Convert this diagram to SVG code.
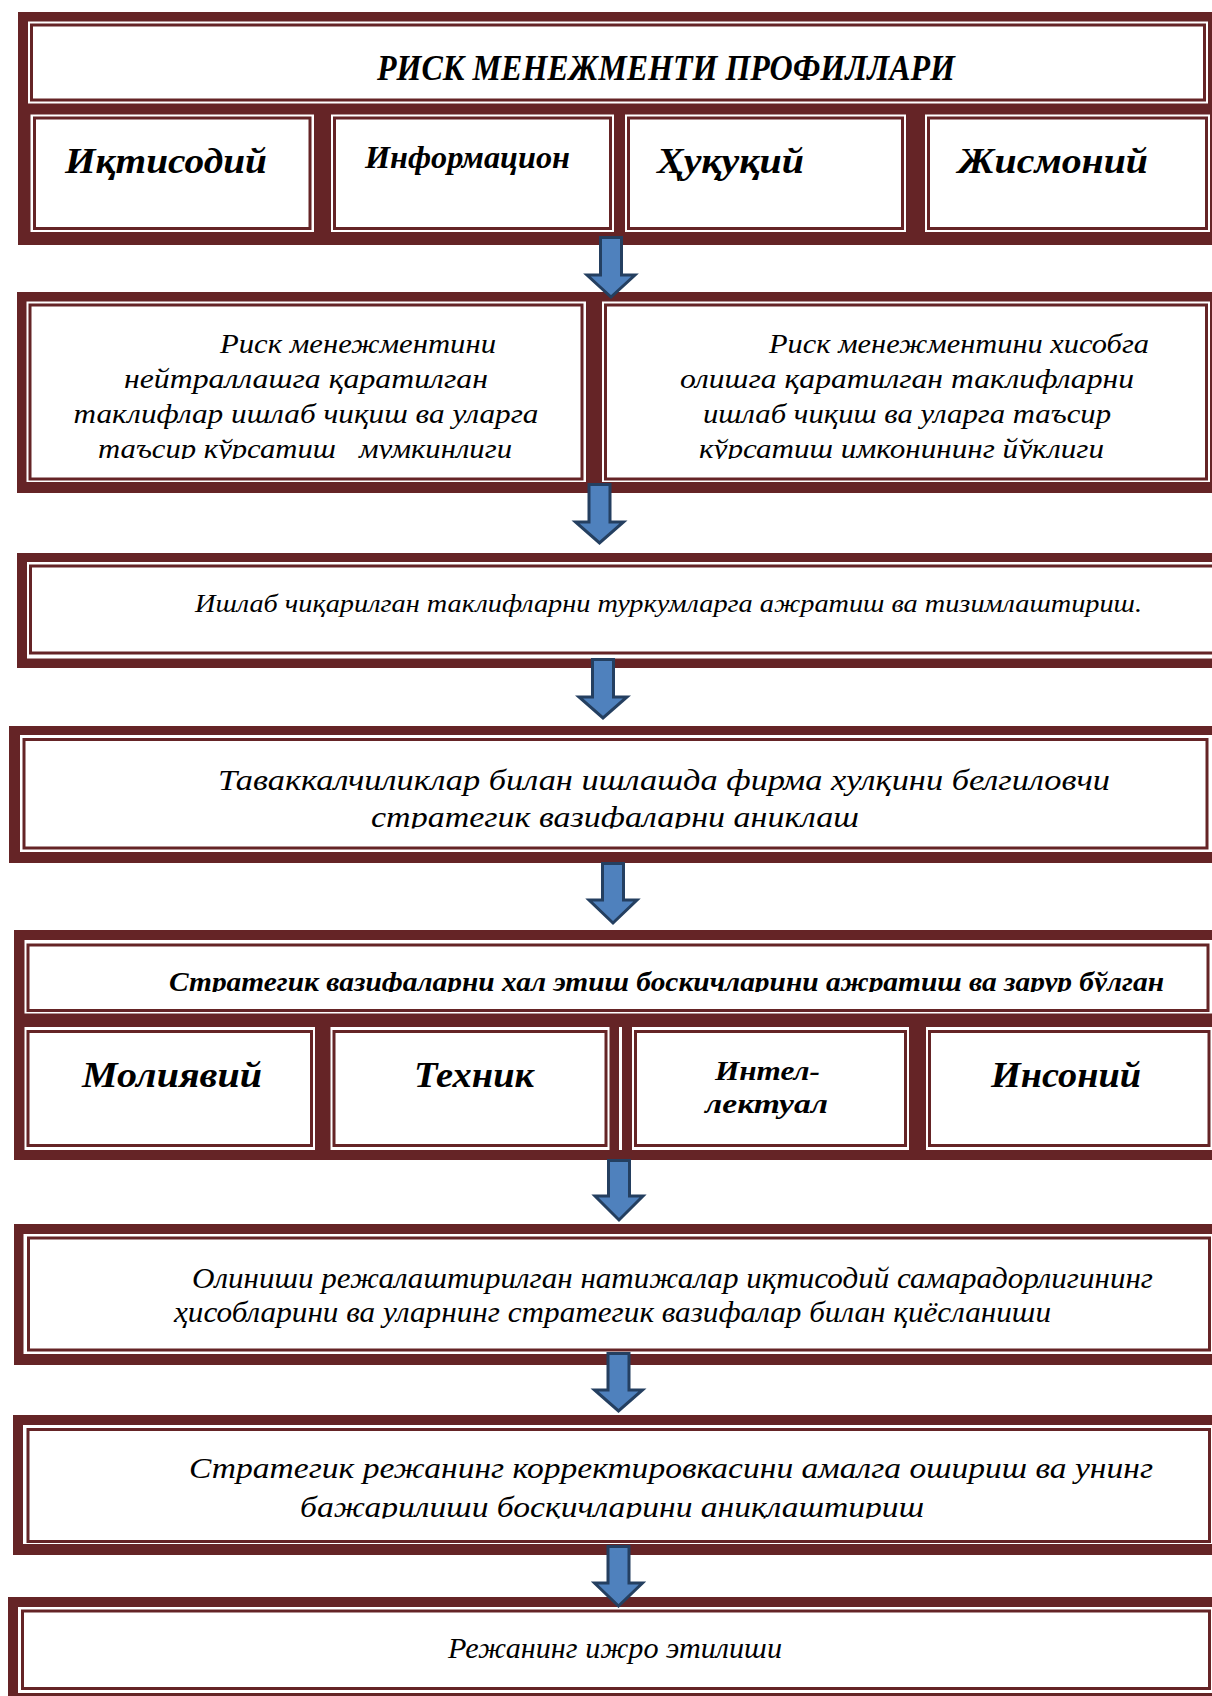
<svg xmlns="http://www.w3.org/2000/svg" width="1212" height="1696" viewBox="0 0 1212 1696">
<defs>
<style>
.dk{fill:#652426}
.wh{fill:#ffffff}
.ln{fill:none;stroke:#652426;stroke-width:3}
.t{font-family:"Liberation Serif","Times New Roman",serif;font-style:italic;fill:#000000}
.b{font-weight:bold}
.ar{fill:#4F81BD;stroke:#243F60;stroke-width:3;stroke-linejoin:miter}
</style>
<clipPath id="cB"><rect x="0" y="300" width="1212" height="159"/></clipPath>
<clipPath id="cD"><rect x="0" y="735" width="1212" height="93.5"/></clipPath>
<clipPath id="cE"><rect x="0" y="940" width="1212" height="52"/></clipPath>
<clipPath id="cG"><rect x="0" y="1425" width="1212" height="93.5"/></clipPath>
</defs>

<g id="node-title">
<rect class="dk" x="18" y="12" width="1210" height="233"/>
<rect class="wh" x="28" y="21.5" width="1180" height="82"/>
<rect class="ln" x="31.5" y="25" width="1173" height="75"/>
<text class="t b" x="377" y="80" font-size="36" textLength="578" lengthAdjust="spacingAndGlyphs">РИСК МЕНЕЖМЕНТИ ПРОФИЛЛАРИ</text>
</g>
<g id="node-iqtisodiy">
<rect class="wh" x="30.5" y="114.5" width="283.5" height="117.5"/>
<rect class="ln" x="34.5" y="118" width="275.5" height="110.5"/>
<text class="t b" x="65" y="173" font-size="36" textLength="202" lengthAdjust="spacingAndGlyphs">Иқтисодий</text>
</g>
<g id="node-informatsion">
<rect class="wh" x="331" y="114.5" width="283" height="117.5"/>
<rect class="ln" x="334.5" y="118" width="276" height="110.5"/>
<text class="t b" x="365" y="168" font-size="31" textLength="205" lengthAdjust="spacingAndGlyphs">Информацион</text>
</g>
<g id="node-huquqiy">
<rect class="wh" x="625" y="114.5" width="281" height="117.5"/>
<rect class="ln" x="628.5" y="118" width="274" height="110.5"/>
<text class="t b" x="657" y="173" font-size="36" textLength="147" lengthAdjust="spacingAndGlyphs">Ҳуқуқий</text>
</g>
<g id="node-jismoniy">
<rect class="wh" x="925" y="114.5" width="285" height="117.5"/>
<rect class="ln" x="928.5" y="118" width="278" height="110.5"/>
<text class="t b" x="958" y="173" font-size="36" textLength="190" lengthAdjust="spacingAndGlyphs">Жисмоний</text>
</g>

<g id="node-neutralize">
<rect class="dk" x="17" y="292" width="1210" height="201"/>
<rect class="wh" x="26.5" y="301.5" width="559.5" height="180.5"/>
<rect class="ln" x="30" y="305" width="552" height="174"/>
<g clip-path="url(#cB)">
<text class="t" font-size="27">
<tspan x="220" y="353" textLength="276" lengthAdjust="spacingAndGlyphs">Риск менежментини</tspan>
<tspan x="124" y="388" textLength="364" lengthAdjust="spacingAndGlyphs">нейтраллашга қаратилган</tspan>
<tspan x="73.5" y="423" textLength="465" lengthAdjust="spacingAndGlyphs">таклифлар ишлаб чиқиш ва уларга</tspan>
</text>
<text class="t" font-size="27" x="98" y="458" textLength="414" lengthAdjust="spacingAndGlyphs" xml:space="preserve">таъсир кўрсатиш   мумкинлиги</text>
</g>
</g>
<g id="node-account">
<rect class="wh" x="602" y="301.5" width="608" height="180.5"/>
<rect class="ln" x="605.5" y="305" width="601" height="174"/>
<g clip-path="url(#cB)">
<text class="t" font-size="27">
<tspan x="769" y="353" textLength="380" lengthAdjust="spacingAndGlyphs">Риск менежментини хисобга</tspan>
<tspan x="680" y="388" textLength="454" lengthAdjust="spacingAndGlyphs">олишга қаратилган таклифларни</tspan>
<tspan x="703" y="423" textLength="408" lengthAdjust="spacingAndGlyphs">ишлаб чиқиш ва уларга таъсир</tspan>
<tspan x="699" y="458" textLength="405" lengthAdjust="spacingAndGlyphs">кўрсатиш имконининг йўклиги</tspan>
</text>
</g>
</g>

<g id="node-classify">
<rect class="dk" x="17" y="553" width="1210" height="115"/>
<rect class="wh" x="27" y="562" width="1200" height="96.5"/>
<rect class="ln" x="30.5" y="566" width="1200" height="87"/>
<text class="t" x="195" y="612" font-size="26" textLength="947" lengthAdjust="spacingAndGlyphs">Ишлаб чиқарилган таклифларни туркумларга ажратиш ва тизимлаштириш.</text>
</g>

<g id="node-strategic-tasks">
<rect class="dk" x="9" y="726" width="1220" height="137"/>
<rect class="wh" x="20" y="735" width="1192" height="117"/>
<rect class="ln" x="24" y="739.5" width="1183" height="108.5"/>
<g clip-path="url(#cD)">
<text class="t" font-size="30">
<tspan x="218" y="790" textLength="892" lengthAdjust="spacingAndGlyphs">Таваккалчиликлар билан ишлашда фирма хулқини белгиловчи</tspan>
<tspan x="371" y="827" textLength="488" lengthAdjust="spacingAndGlyphs">стратегик вазифаларни аниклаш</tspan>
</text>
</g>
</g>

<g id="node-stages">
<rect class="dk" x="14" y="930" width="1215" height="230"/>
<rect class="wh" x="24.5" y="940" width="1188" height="73.5"/>
<rect class="ln" x="28" y="945" width="1180" height="65.5"/>
<g clip-path="url(#cE)">
<text class="t b" x="169" y="991" font-size="27" textLength="995" lengthAdjust="spacingAndGlyphs">Стратегик вазифаларни хал этиш боскичларини ажратиш ва зарур бўлган</text>
</g>
<rect class="wh" x="619" y="1027" width="3" height="123"/>
</g>
<g id="node-moliyaviy">
<rect class="wh" x="24.5" y="1027" width="290.5" height="123"/>
<rect class="ln" x="28" y="1031.5" width="283.5" height="114"/>
<text class="t b" x="82" y="1087" font-size="36" textLength="180" lengthAdjust="spacingAndGlyphs">Молиявий</text>
</g>
<g id="node-texnik">
<rect class="wh" x="330.5" y="1027" width="279" height="123"/>
<rect class="ln" x="334" y="1031.5" width="272" height="114"/>
<text class="t b" x="414" y="1087" font-size="36" textLength="120" lengthAdjust="spacingAndGlyphs">Техник</text>
</g>
<g id="node-intellektual">
<rect class="wh" x="632" y="1027" width="277" height="123"/>
<rect class="ln" x="635.5" y="1031.5" width="270" height="114"/>
<text class="t b" font-size="28">
<tspan x="715" y="1080" textLength="105" lengthAdjust="spacingAndGlyphs">Интел-</tspan>
<tspan x="705" y="1113" textLength="123" lengthAdjust="spacingAndGlyphs">лектуал</tspan>
</text>
</g>
<g id="node-insoniy">
<rect class="wh" x="926" y="1027" width="286.5" height="123"/>
<rect class="ln" x="929.5" y="1031.5" width="279.5" height="114"/>
<text class="t b" x="991" y="1087" font-size="36" textLength="150" lengthAdjust="spacingAndGlyphs">Инсоний</text>
</g>

<g id="node-results">
<rect class="dk" x="14" y="1224" width="1215" height="141"/>
<rect class="wh" x="23.5" y="1234" width="1189" height="120"/>
<rect class="ln" x="28.5" y="1238" width="1181" height="112"/>
<text class="t" font-size="30">
<tspan x="192" y="1288" textLength="961" lengthAdjust="spacingAndGlyphs">Олиниши режалаштирилган натижалар иқтисодий самарадорлигининг</tspan>
<tspan x="174" y="1322" textLength="877" lengthAdjust="spacingAndGlyphs">ҳисобларини ва уларнинг стратегик вазифалар билан қиёсланиши</tspan>
</text>
</g>

<g id="node-correction">
<rect class="dk" x="13" y="1415" width="1215" height="140"/>
<rect class="wh" x="23" y="1425" width="1190" height="119"/>
<rect class="ln" x="28" y="1429.5" width="1181.5" height="112"/>
<g clip-path="url(#cG)">
<text class="t" font-size="29">
<tspan x="189" y="1478" textLength="964" lengthAdjust="spacingAndGlyphs">Стратегик режанинг корректировкасини амалга ошириш ва унинг</tspan>
<tspan x="300" y="1517" textLength="624" lengthAdjust="spacingAndGlyphs">бажарилиши босқичларини аниқлаштириш</tspan>
</text>
</g>
</g>

<g id="node-execution">
<rect class="dk" x="8" y="1597" width="1220" height="110"/>
<rect class="wh" x="18" y="1607" width="1195" height="86"/>
<rect class="ln" x="22.5" y="1611" width="1187" height="77.5"/>
<text class="t" x="448" y="1658" font-size="30" textLength="334" lengthAdjust="spacingAndGlyphs">Режанинг ижро этилиши</text>
</g>

<g id="connectors">
<path class="ar" d="M600.5 237.5 H621.5 V275 H635 L611 297 L587 275 H600.5 Z"/>
<path class="ar" d="M589 484.5 H610 V522 H623.5 L599.5 543 L575.5 522 H589 Z"/>
<path class="ar" d="M592.5 659.5 H613.5 V697 H627 L603 718 L579 697 H592.5 Z"/>
<path class="ar" d="M602.5 863.5 H623.5 V900 H637 L613 923 L589 900 H602.5 Z"/>
<path class="ar" d="M608.5 1160.5 H629.5 V1196 H643 L619 1220 L595 1196 H608.5 Z"/>
<path class="ar" d="M608 1353.5 H629 V1390 H642.5 L618.5 1411 L594.5 1390 H608 Z"/>
<path class="ar" d="M608 1546.5 H629 V1583 H642.5 L618.5 1606 L594.5 1583 H608 Z"/>
</g>
</svg>
